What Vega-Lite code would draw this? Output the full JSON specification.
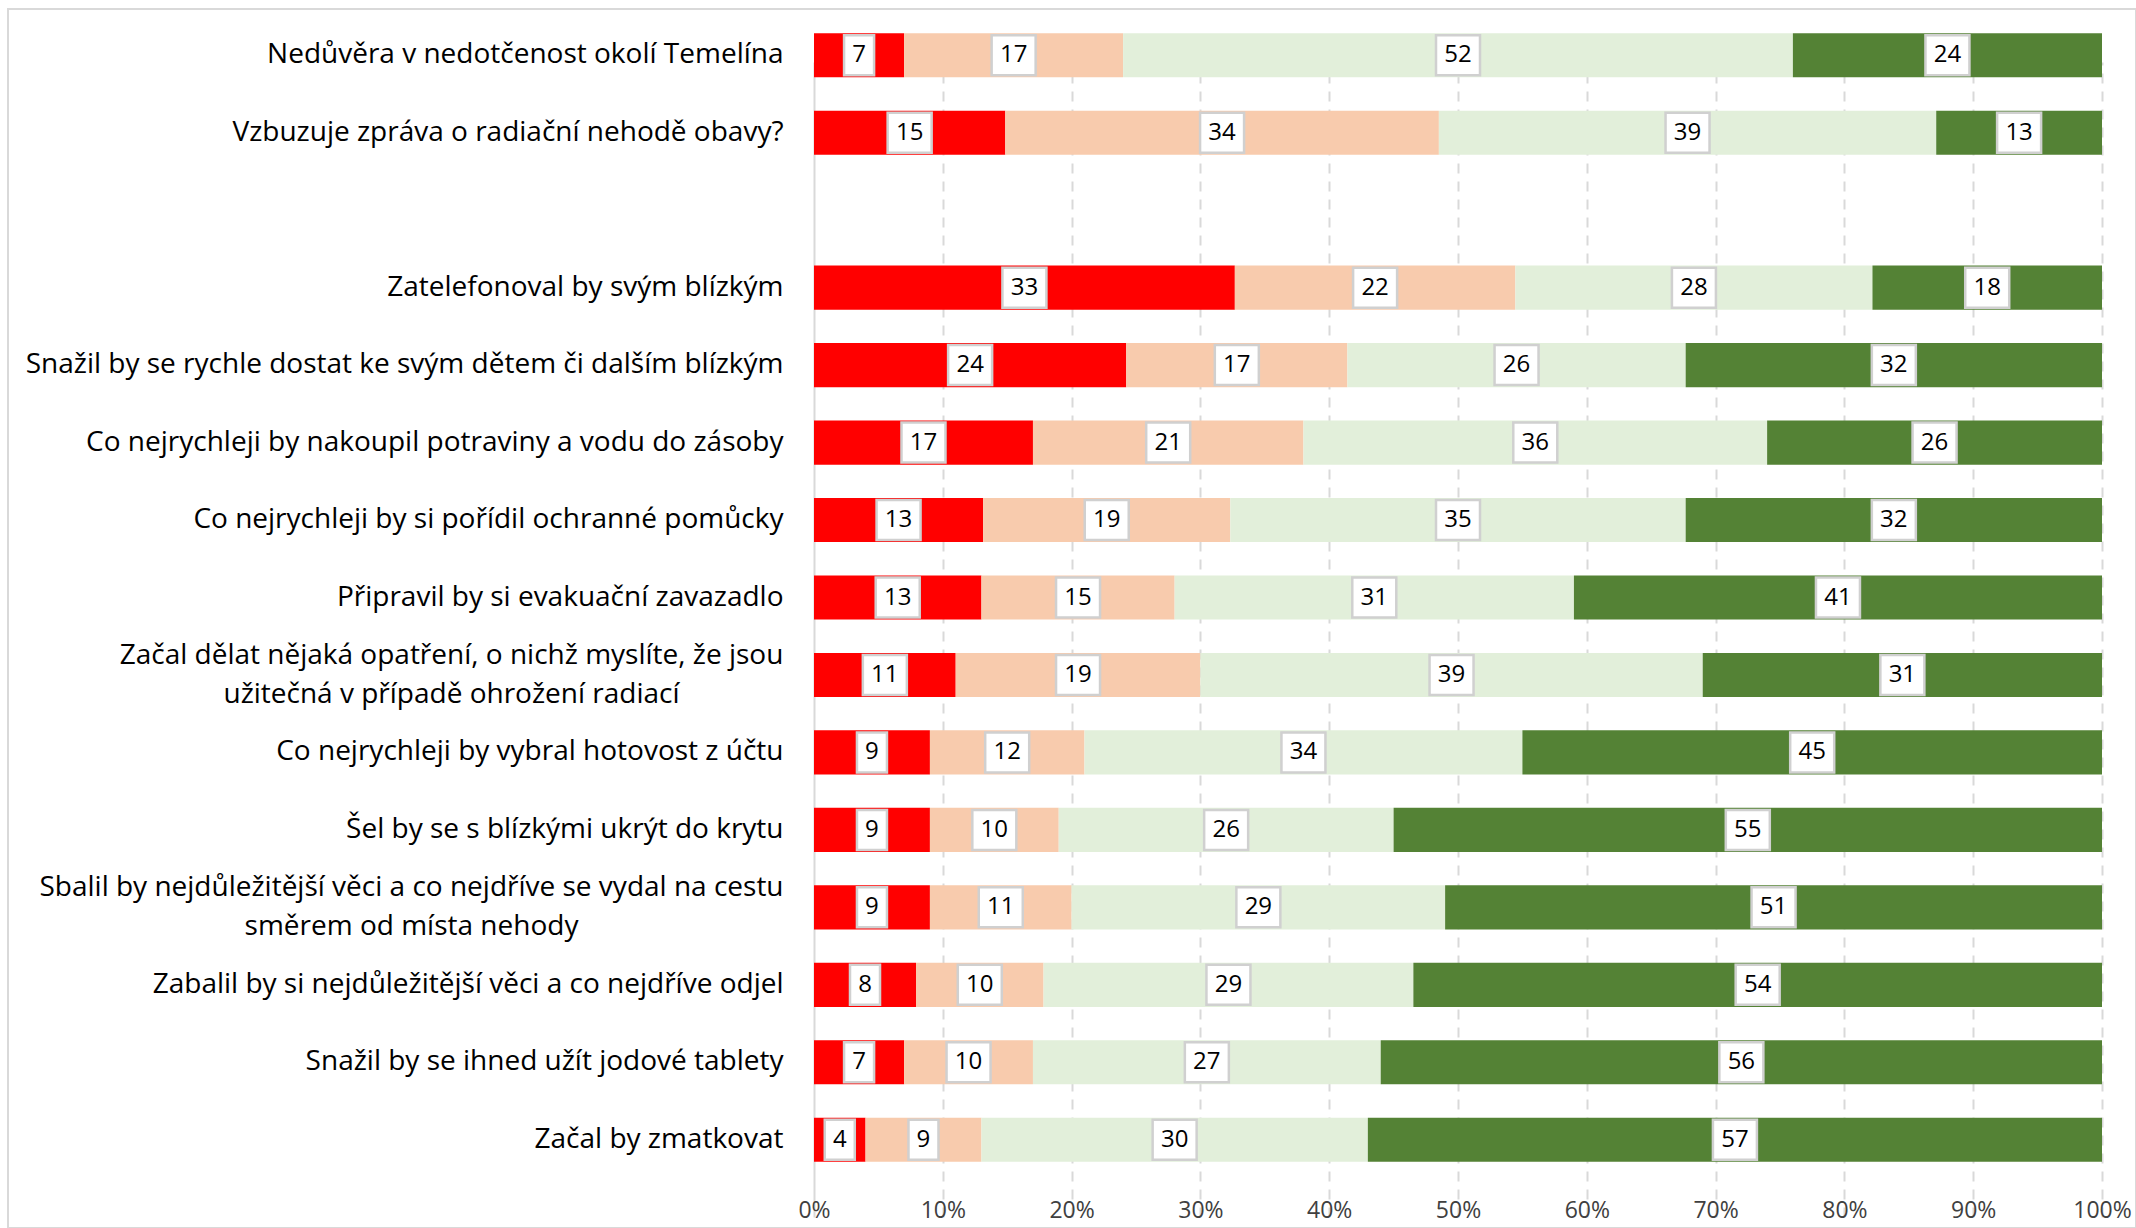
{
  "$schema": "https://vega.github.io/schema/vega-lite/v6.json",
  "width": 2128,
  "height": 1219,
  "autosize": "none",
  "padding": {"left": 8, "top": 9, "right": 0, "bottom": 0},
  "background": "#ffffff",
  "config": {"view": {"stroke": "#D9D9D9", "strokeWidth": 2}, "font": "Open Sans"},
  "data": {"values": [
    {"q": "Nedůvěra v nedotčenost okolí Temelína", "k": 1, "v": 7},
    {"q": "Nedůvěra v nedotčenost okolí Temelína", "k": 2, "v": 17},
    {"q": "Nedůvěra v nedotčenost okolí Temelína", "k": 3, "v": 52},
    {"q": "Nedůvěra v nedotčenost okolí Temelína", "k": 4, "v": 24},
    {"q": "Vzbuzuje zpráva o radiační nehodě obavy?", "k": 1, "v": 15},
    {"q": "Vzbuzuje zpráva o radiační nehodě obavy?", "k": 2, "v": 34},
    {"q": "Vzbuzuje zpráva o radiační nehodě obavy?", "k": 3, "v": 39},
    {"q": "Vzbuzuje zpráva o radiační nehodě obavy?", "k": 4, "v": 13},
    {"q": "Zatelefonoval by svým blízkým", "k": 1, "v": 33},
    {"q": "Zatelefonoval by svým blízkým", "k": 2, "v": 22},
    {"q": "Zatelefonoval by svým blízkým", "k": 3, "v": 28},
    {"q": "Zatelefonoval by svým blízkým", "k": 4, "v": 18},
    {"q": "Snažil by se rychle dostat ke svým dětem či dalším blízkým", "k": 1, "v": 24},
    {"q": "Snažil by se rychle dostat ke svým dětem či dalším blízkým", "k": 2, "v": 17},
    {"q": "Snažil by se rychle dostat ke svým dětem či dalším blízkým", "k": 3, "v": 26},
    {"q": "Snažil by se rychle dostat ke svým dětem či dalším blízkým", "k": 4, "v": 32},
    {"q": "Co nejrychleji by nakoupil potraviny a vodu do zásoby", "k": 1, "v": 17},
    {"q": "Co nejrychleji by nakoupil potraviny a vodu do zásoby", "k": 2, "v": 21},
    {"q": "Co nejrychleji by nakoupil potraviny a vodu do zásoby", "k": 3, "v": 36},
    {"q": "Co nejrychleji by nakoupil potraviny a vodu do zásoby", "k": 4, "v": 26},
    {"q": "Co nejrychleji by si pořídil ochranné pomůcky", "k": 1, "v": 13},
    {"q": "Co nejrychleji by si pořídil ochranné pomůcky", "k": 2, "v": 19},
    {"q": "Co nejrychleji by si pořídil ochranné pomůcky", "k": 3, "v": 35},
    {"q": "Co nejrychleji by si pořídil ochranné pomůcky", "k": 4, "v": 32},
    {"q": "Připravil by si evakuační zavazadlo", "k": 1, "v": 13},
    {"q": "Připravil by si evakuační zavazadlo", "k": 2, "v": 15},
    {"q": "Připravil by si evakuační zavazadlo", "k": 3, "v": 31},
    {"q": "Připravil by si evakuační zavazadlo", "k": 4, "v": 41},
    {"q": "Začal dělat nějaká opatření, o nichž myslíte, že jsou užitečná v případě ohrožení radiací", "k": 1, "v": 11},
    {"q": "Začal dělat nějaká opatření, o nichž myslíte, že jsou užitečná v případě ohrožení radiací", "k": 2, "v": 19},
    {"q": "Začal dělat nějaká opatření, o nichž myslíte, že jsou užitečná v případě ohrožení radiací", "k": 3, "v": 39},
    {"q": "Začal dělat nějaká opatření, o nichž myslíte, že jsou užitečná v případě ohrožení radiací", "k": 4, "v": 31},
    {"q": "Co nejrychleji by vybral hotovost z účtu", "k": 1, "v": 9},
    {"q": "Co nejrychleji by vybral hotovost z účtu", "k": 2, "v": 12},
    {"q": "Co nejrychleji by vybral hotovost z účtu", "k": 3, "v": 34},
    {"q": "Co nejrychleji by vybral hotovost z účtu", "k": 4, "v": 45},
    {"q": "Šel by se s blízkými ukrýt do krytu", "k": 1, "v": 9},
    {"q": "Šel by se s blízkými ukrýt do krytu", "k": 2, "v": 10},
    {"q": "Šel by se s blízkými ukrýt do krytu", "k": 3, "v": 26},
    {"q": "Šel by se s blízkými ukrýt do krytu", "k": 4, "v": 55},
    {"q": "Sbalil by nejdůležitější věci a co nejdříve se vydal na cestu směrem od místa nehody", "k": 1, "v": 9},
    {"q": "Sbalil by nejdůležitější věci a co nejdříve se vydal na cestu směrem od místa nehody", "k": 2, "v": 11},
    {"q": "Sbalil by nejdůležitější věci a co nejdříve se vydal na cestu směrem od místa nehody", "k": 3, "v": 29},
    {"q": "Sbalil by nejdůležitější věci a co nejdříve se vydal na cestu směrem od místa nehody", "k": 4, "v": 51},
    {"q": "Zabalil by si nejdůležitější věci a co nejdříve odjel", "k": 1, "v": 8},
    {"q": "Zabalil by si nejdůležitější věci a co nejdříve odjel", "k": 2, "v": 10},
    {"q": "Zabalil by si nejdůležitější věci a co nejdříve odjel", "k": 3, "v": 29},
    {"q": "Zabalil by si nejdůležitější věci a co nejdříve odjel", "k": 4, "v": 54},
    {"q": "Snažil by se ihned užít jodové tablety", "k": 1, "v": 7},
    {"q": "Snažil by se ihned užít jodové tablety", "k": 2, "v": 10},
    {"q": "Snažil by se ihned užít jodové tablety", "k": 3, "v": 27},
    {"q": "Snažil by se ihned užít jodové tablety", "k": 4, "v": 56},
    {"q": "Začal by zmatkovat", "k": 1, "v": 4},
    {"q": "Začal by zmatkovat", "k": 2, "v": 9},
    {"q": "Začal by zmatkovat", "k": 3, "v": 30},
    {"q": "Začal by zmatkovat", "k": 4, "v": 57}
  ]},
  "encoding": {
    "y": {
      "field": "q",
      "type": "nominal",
      "sort": null,
      "scale": {
        "domain": [
          "Nedůvěra v nedotčenost okolí Temelína",
          "Vzbuzuje zpráva o radiační nehodě obavy?",
          " ",
          "Zatelefonoval by svým blízkým",
          "Snažil by se rychle dostat ke svým dětem či dalším blízkým",
          "Co nejrychleji by nakoupil potraviny a vodu do zásoby",
          "Co nejrychleji by si pořídil ochranné pomůcky",
          "Připravil by si evakuační zavazadlo",
          "Začal dělat nějaká opatření, o nichž myslíte, že jsou užitečná v případě ohrožení radiací",
          "Co nejrychleji by vybral hotovost z účtu",
          "Šel by se s blízkými ukrýt do krytu",
          "Sbalil by nejdůležitější věci a co nejdříve se vydal na cestu směrem od místa nehody",
          "Zabalil by si nejdůležitější věci a co nejdříve odjel",
          "Snažil by se ihned užít jodové tablety",
          "Začal by zmatkovat"
        ],
        "range": [11, 1166],
        "paddingInner": 0.43,
        "paddingOuter": 0.17
      },
      "axis": {
        "title": null,
        "domain": false,
        "ticks": false,
        "tickSize": 0,
        "grid": false,
        "labelFont": "Open Sans",
        "labelFontSize": 28,
        "labelColor": "#000000",
        "labelLimit": 2000,
        "labelOverlap": false,
        "labelBaseline": "middle",
        "labelLineHeight": 39,
        "labelAlign": {"condition": {"test": "length(datum.value) > 65", "value": "center"}, "value": "right"},
        "labelPadding": {"condition": [
          {"test": "length(datum.value) > 65 && length(datum.value) < 87", "value": -403},
          {"test": "length(datum.value) >= 87", "value": -443}
        ], "value": -775},
        "labelOffset": {"condition": {"test": "length(datum.value) > 65", "value": -19}, "value": 0},
        "labelExpr": "datum.value == 'Začal dělat nějaká opatření, o nichž myslíte, že jsou užitečná v případě ohrožení radiací' ? ['Začal dělat nějaká opatření, o nichž myslíte, že jsou', 'užitečná v případě ohrožení radiací'] : datum.value == 'Sbalil by nejdůležitější věci a co nejdříve se vydal na cestu směrem od místa nehody' ? ['Sbalil by nejdůležitější věci a co nejdříve se vydal na cestu', 'směrem od místa nehody'] : datum.value"
      }
    }
  },
  "layer": [
    {
      "mark": {"type": "bar"},
      "encoding": {
        "x": {
          "field": "v",
          "type": "quantitative",
          "stack": "normalize",
          "scale": {"domain": [0, 1], "range": [806, 2094], "nice": false},
          "axis": {
            "title": null,
            "values": [0, 0.1, 0.2, 0.3, 0.4, 0.5, 0.6, 0.7, 0.8, 0.9, 1],
            "format": ".0%",
            "domain": false,
            "ticks": false,
            "tickSize": 0,
            "grid": true,
            "gridColor": "#D9D9D9",
            "gridWidth": 2,
            "gridDash": {"condition": {"test": "datum.value == 0", "value": []}, "value": [10, 8]},
            "labelPadding": -18,
            "labelBaseline": "middle",
            "labelFont": "Open Sans",
            "labelFontSize": 23,
            "labelColor": "#404040",
            "labelFlush": false,
            "labelOverlap": false
          }
        },
        "color": {
          "field": "k",
          "type": "nominal",
          "scale": {"domain": [1, 2, 3, 4], "range": ["#FF0000", "#F8CBAD", "#E2EFDA", "#548235"]},
          "legend": null
        },
        "order": {"field": "k", "type": "quantitative"}
      }
    },
    {
      "mark": {"type": "point", "filled": true, "fill": "#ffffff", "stroke": "#D0D0D0", "strokeWidth": 2.5, "size": 1600, "opacity": 1},
      "encoding": {
        "x": {"field": "v", "type": "quantitative", "stack": "normalize", "bandPosition": 0.5},
        "detail": {"field": "k"},
        "order": {"field": "k", "type": "quantitative"},
        "shape": {
          "condition": {"test": "datum.v < 10", "value": "M-0.75,-1L0.75,-1L0.75,1L-0.75,1Z"},
          "value": "M-1.1,-1L1.1,-1L1.1,1L-1.1,1Z"
        }
      }
    },
    {
      "mark": {"type": "text", "font": "Open Sans", "fontSize": 24, "color": "#000000", "align": "center", "baseline": "middle"},
      "encoding": {
        "x": {"field": "v", "type": "quantitative", "stack": "normalize", "bandPosition": 0.5},
        "detail": {"field": "k"},
        "order": {"field": "k", "type": "quantitative"},
        "text": {"field": "v", "type": "quantitative"}
      }
    }
  ]
}
